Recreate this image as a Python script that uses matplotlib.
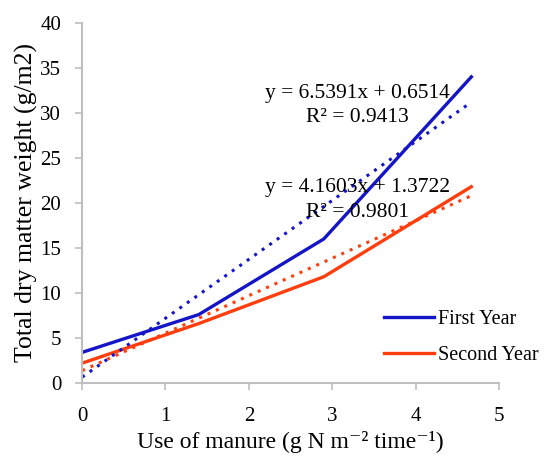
import matplotlib.pyplot as plt
import numpy as np

plt.rcParams['font.family'] = ['Liberation Serif', 'DejaVu Serif']

# manure rate (g N m-2 time-1) and dry matter weight (g/m2)
manure = [0, 1.4, 2.9, 4.67]
first_year = [3.4, 7.6, 16.0, 34.0]
second_year = [2.2, 6.6, 11.8, 21.8]

# linear trendlines as printed on the chart
fit_first = (6.5391, 0.6514, 0.9413)
fit_second = (4.1603, 1.3722, 0.9801)

blue = '#1515C8'
red = '#FF3D0D'
grey = '#BFBFBF'

fig = plt.figure(figsize=(5.44, 4.57), dpi=100)
ax = fig.add_axes([0.151, 0.162, 0.766, 0.788])

ax.plot(manure, first_year, color=blue, lw=2.4, label='First Year')
ax.plot(manure, second_year, color=red, lw=2.4, label='Second Year')

xs = np.array([manure[0], manure[-1]])
ax.plot(xs, fit_first[0] * xs + fit_first[1], color=blue, lw=2.2, ls=(0, (1, 2)))
ax.plot(xs, fit_second[0] * xs + fit_second[1], color=red, lw=2.2, ls=(0, (1, 2)))

eq_size = 15.5
ax.text(3.30, 32.2, f"y = {fit_first[0]}x + {fit_first[1]}", ha='center', va='center', fontsize=eq_size)
ax.text(3.30, 29.5, f"R² = {fit_first[2]}", ha='center', va='center', fontsize=eq_size)
ax.text(3.30, 21.7, f"y = {fit_second[0]}x + {fit_second[1]}", ha='center', va='center', fontsize=eq_size)
ax.text(3.30, 18.9, f"R² = {fit_second[2]}", ha='center', va='center', fontsize=eq_size)

ax.set_xlim(0, 5)
ax.set_ylim(0, 40)
ax.set_xticks(range(0, 6))
ax.set_yticks(range(0, 41, 5))
ax.tick_params(labelsize=15, color=grey, length=5, width=1.2)
ax.tick_params(axis='x', pad=12)
ax.tick_params(axis='y', pad=10)

for side in ['top', 'right']:
    ax.spines[side].set_visible(False)
for side in ['left', 'bottom']:
    ax.spines[side].set_color(grey)
    ax.spines[side].set_linewidth(1.5)

ax.set_xlabel("Use of manure (g N m⁻² time⁻¹)", fontsize=17, labelpad=4)
ax.set_ylabel("Total dry matter weight (g/m2)", fontsize=18.5, labelpad=2)

ax.legend(loc='lower left', bbox_to_anchor=(0.68, 0.0), frameon=False, fontsize=14.5,
          handlelength=2.5, handletextpad=0.2, labelspacing=0.85)

fig.savefig('out.png', dpi=100)
